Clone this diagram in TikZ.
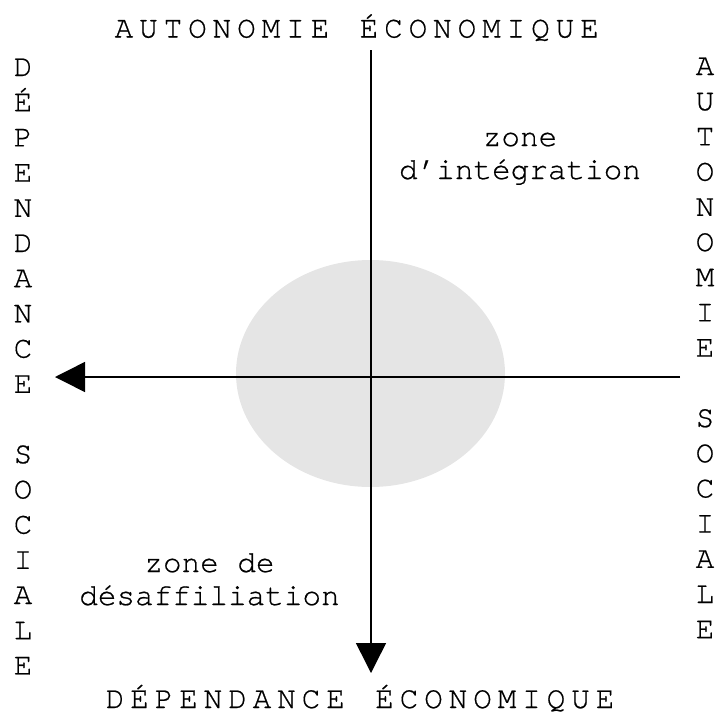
\documentclass[tikz,border=0pt]{standalone}
\usepackage{fontspec}
\setmainfont[Ligatures=NoCommon,FakeBold=0.6]{TeX Gyre Cursor}
\usetikzlibrary{arrows.meta}
\begin{document}
\begin{tikzpicture}[x=1pt,y=-1pt,
  lbl/.style={inner sep=0pt,anchor=base,font=\fontsize{31}{27.5}\selectfont},
  axis/.style={line width=1.5pt,-{Triangle[length=30pt,width=30pt]}}]
\useasboundingbox (0,0) rectangle (716,724);
% grey zone
\fill[gray!20] (370.5,373.5) ellipse [x radius=134.5, y radius=113.5];
% axes
\coordinate (vtop) at (371,50);
\coordinate (vend) at (371,673);
\coordinate (hstart) at (680,377);
\coordinate (hend) at (55,377);
\draw[axis] (vtop) -- (vend);
\draw[axis] (hstart) -- (hend);
% top title
\foreach \c [count=\i from 0] in {A,U,T,O,N,O,M,I,E,{},É,C,O,N,O,M,I,Q,U,E}
  \node[lbl] (top\i) at ({356.7-9.5*24.5+\i*24.5},37.5) {\c};
% bottom title
\foreach \c [count=\i from 0] in {D,É,P,E,N,D,A,N,C,E,{},É,C,O,N,O,M,I,Q,U,E}
  \node[lbl] (bot\i) at ({360-10*24.5+\i*24.5},708) {\c};
% left column
\foreach \c [count=\i from 0] in {D,É,P,E,N,D,A,N,C,E,{},S,O,C,I,A,L,E}
  \node[lbl] (left\i) at (23,{76+\i*35.2}) {\c};
% right column
\foreach \c [count=\i from 0] in {A,U,T,O,N,O,M,I,E,{},S,O,C,I,A,L,E}
  \node[lbl] (right\i) at (705,{75+\i*35.2}) {\c};
% zone labels
\node[lbl] (integA) at (520,146) {zone};
\node[lbl] (integB) at (520,179) {d’intégration};
\node[lbl] (desafA) at (209.5,572) {zone de};
\node[lbl] (desafB) at (209.5,605) {désaffiliation};
\end{tikzpicture}
\end{document}
